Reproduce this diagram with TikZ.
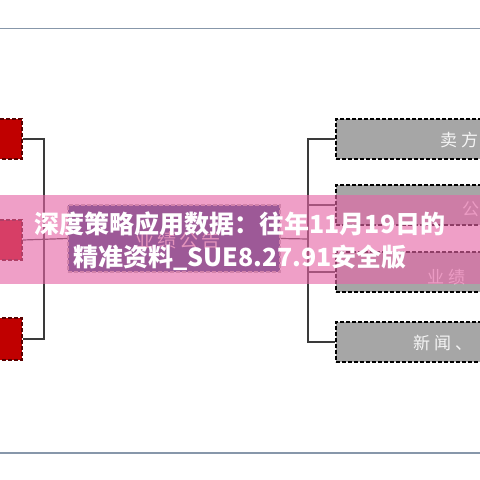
\documentclass[tikz,border=0pt]{standalone}
\usepackage{fontspec}
\newfontfamily\cjk{Noto Sans CJK SC}
\definecolor{rule}{HTML}{8797AA}
\definecolor{boxred}{HTML}{C00000}
\definecolor{redline}{HTML}{5A0000}
\definecolor{conn}{HTML}{3A3A3A}
\definecolor{boxgray}{HTML}{A6A6A6}
\definecolor{boxblue}{HTML}{284780}
\definecolor{bandpink}{HTML}{E665A6}
\tikzset{
  dsh/.style={dash pattern=on 4pt off 2pt},
  redbox/.style={draw=redline, dsh, line width=1.4pt, fill=boxred, minimum width=32pt, inner sep=0pt},
  graybox/.style={draw=black, dsh, line width=1.4pt, fill=boxgray, minimum width=284pt, minimum height=40pt, inner sep=0pt},
  centbox/.style={draw=gray!60, dsh, line width=1.4pt, fill=boxblue, minimum width=212pt, minimum height=67pt, inner sep=0pt},
  connector/.style={draw=conn, line width=1.2pt},
  boxtext/.style={font=\cjk\fontsize{17pt}{17pt}\selectfont, text=white!92!gray, anchor=west, inner sep=0pt},
  bannertext/.style={font=\cjk\bfseries\fontsize{25pt}{25pt}\selectfont, text=white, inner sep=0pt},
  hrule/.style={draw=rule, line width=1.6pt}
}
\begin{document}
\begin{tikzpicture}[x=1pt,y=-1pt]
\useasboundingbox (0,0) rectangle (480,480);
\clip (0,0) rectangle (480,480);
\fill[white] (0,0) rectangle (480,480);
% horizontal rules
\coordinate (t1) at (0,28.5);
\coordinate (t2) at (480,28.5);
\coordinate (b1) at (0,453);
\coordinate (b2) at (480,453);
\draw[hrule] (t1) -- (t2);
\draw[hrule] (b1) -- (b2);
% left boxes
\node[redbox, minimum height=40pt] (L1) at (6,139) {};
\node[redbox, minimum height=40pt] (L2) at (6,240) {};
\node[redbox, minimum height=42pt] (L3) at (6,339) {};
% central box
\node[centbox] (C) at (174,238.5) {};
\node[font=\cjk\fontsize{19pt}{19pt}\selectfont, text=gray!25] (Ct) at (178,240) {业\hspace{3pt}绩\hspace{3pt}公\hspace{3pt}告};
% right boxes
\node[graybox] (R1) at (478,139) {};
\node[graybox] (R2) at (478,205) {};
\node[graybox] (R3) at (478,272) {};
\node[graybox] (R4) at (478,342) {};
\node[boxtext] (R1t) at (440,140) {卖\hspace{4pt}方};
\node[boxtext] (R2t) at (462,209) {公};
\node[boxtext] (R3t) at (427,277) {业\hspace{4pt}绩};
\node[boxtext] (R4t) at (413,343) {新\hspace{4pt}闻\hspace{4pt}、};
% connectors
\coordinate (jl) at (44,239);
\coordinate (jr) at (308,239);
\draw[connector] (L1.east) -| (jl);
\draw[connector] (L3.east) -| (jl);
\draw[connector] (L2.east) -- (C.west);
\draw[connector] (C.east) -- (jr);
\draw[connector] (jr) |- (R1.west);
\draw[connector] (jr) |- (R2.west);
\draw[connector] (jr) |- (R3.west);
\draw[connector] (jr) |- (R4.west);
% banner overlay
\fill[bandpink, opacity=0.62] (0,195) rectangle (480,284);
\node[bannertext] (B1) at (240,224) {深度策略应用数据：往年11月19日的};
\node[bannertext] (B2) at (240,258) {精准资料\_SUE8.27.91安全版};
\end{tikzpicture}
\end{document}
